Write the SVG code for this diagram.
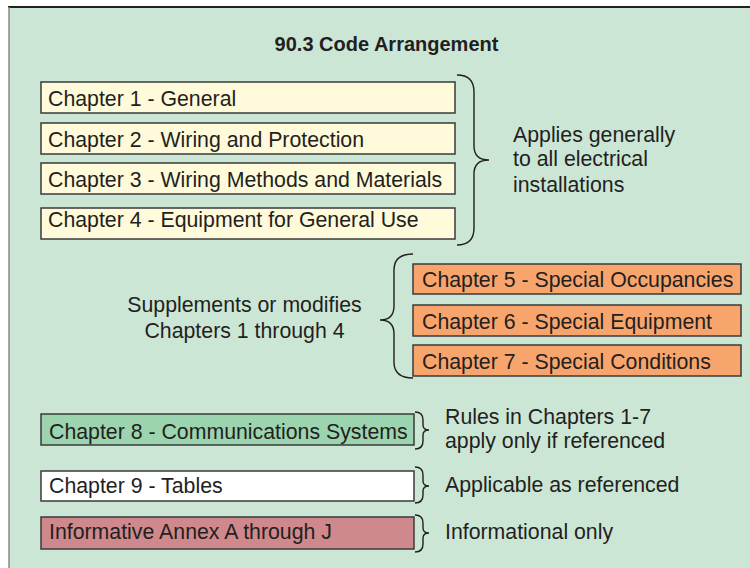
<svg xmlns="http://www.w3.org/2000/svg" width="750" height="568" viewBox="0 0 750 568">
<style>
text{font-family:"Liberation Sans",Arial,sans-serif;font-size:21.3px;fill:#231f20}
.title{font-weight:bold;font-size:20px;text-anchor:middle}
.box{stroke:#3a3a3a;stroke-width:1.5}
.y{fill:#fffad9}
.o{fill:#f8a56d}
.g{fill:#9bd4ae}
.w{fill:#ffffff}
.p{fill:#cf898c}
.brace{fill:none;stroke:#231f20;stroke-width:1.4}
.mid{text-anchor:middle}
</style>
<rect x="9" y="7" width="760" height="580" fill="#cce6d6"/>
<line x1="8" y1="7" x2="750" y2="7" stroke="#222" stroke-width="2"/>
<line x1="9" y1="7" x2="9" y2="568" stroke="#8a8a8a" stroke-width="1.5"/>
<text class="title" x="386.5" y="51">90.3 Code Arrangement</text>
<g id="ch1"><rect class="box y" x="41" y="82" width="414" height="31"/><text x="48" y="106">Chapter 1 - General</text></g>
<g id="ch2"><rect class="box y" x="41" y="123" width="414" height="31"/><text x="48" y="147">Chapter 2 - Wiring and Protection</text></g>
<g id="ch3"><rect class="box y" x="41" y="163" width="414" height="31"/><text x="48" y="187">Chapter 3 - Wiring Methods and Materials</text></g>
<g id="ch4"><rect class="box y" x="41" y="208" width="414" height="31"/><text x="48" y="227">Chapter 4 - Equipment for General Use</text></g>
<g id="ch5"><rect class="box o" x="413" y="264" width="328" height="30"/><text x="422" y="287">Chapter 5 - Special Occupancies</text></g>
<g id="ch6"><rect class="box o" x="413" y="305" width="328" height="31"/><text x="422" y="329">Chapter 6 - Special Equipment</text></g>
<g id="ch7"><rect class="box o" x="413" y="345" width="328" height="31"/><text x="422" y="369">Chapter 7 - Special Conditions</text></g>
<g id="ch8"><rect class="box g" x="41" y="414" width="373" height="31"/><text x="49" y="439">Chapter 8 - Communications Systems</text></g>
<g id="ch9"><rect class="box w" x="41" y="471" width="373" height="30"/><text x="49" y="493">Chapter 9 - Tables</text></g>
<g id="annex"><rect class="box p" x="41" y="517" width="373" height="32"/><text x="49" y="539">Informative Annex A through J</text></g>
<g id="notes">
<text x="513" y="142">Applies generally</text>
<text x="513" y="166">to all electrical</text>
<text x="513" y="192">installations</text>
<text class="mid" x="244.5" y="312">Supplements or modifies</text>
<text class="mid" x="244.5" y="338">Chapters 1 through 4</text>
<text x="445" y="424">Rules in Chapters 1-7</text>
<text x="445" y="448">apply only if referenced</text>
<text x="445" y="492">Applicable as referenced</text>
<text x="445" y="539">Informational only</text>
</g>
<g id="connectors">
<path class="brace" d="M457,75 Q474,75 474,92 L474,146 Q474,160 489,160 Q474,160 474,174 L474,228 Q474,245 457,245"/>
<path class="brace" d="M413,254 Q394,254 394,270 L394,306 Q394,320 380,320 Q394,320 394,334 L394,362 Q394,378 413,378"/>
<path class="brace" d="M415,412 Q423,412 423,420 L423,425 Q423,430 429,430 Q423,430 423,435 L423,441 Q423,449 415,449"/>
<path class="brace" d="M415,467 Q423,467 423,475 L423,481 Q423,486 429,486 Q423,486 423,491 L423,495 Q423,503 415,503"/>
<path class="brace" d="M415,515 Q423,515 423,523 L423,528 Q423,533 429,533 Q423,533 423,538 L423,544 Q423,552 415,552"/>
</g>
</svg>
